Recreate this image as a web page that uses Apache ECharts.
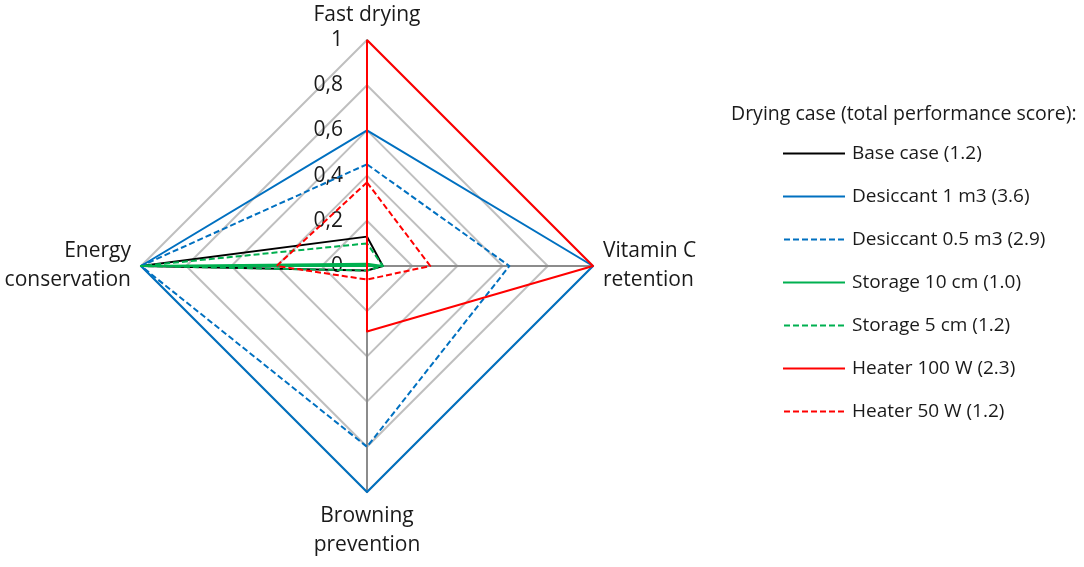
<!DOCTYPE html>
<html><head><meta charset="utf-8">
<script src="https://cdn.jsdelivr.net/npm/echarts@6/dist/echarts.min.js"></script>
<style>html,body{margin:0;padding:0;background:#fff}#c{width:1084px;height:567px}</style>
</head><body><div id="c"></div>
<script>
// indicator order as ECharts places them counter-clockwise from top
const indicators = ['Fast drying', 'Energy\nconservation', 'Browning\nprevention', 'Vitamin C\nretention'];
const seriesNames = ['Base case (1.2)', 'Desiccant 1 m3 (3.6)', 'Desiccant 0.5 m3 (2.9)', 'Storage 10 cm (1.0)', 'Storage 5 cm (1.2)', 'Heater 100 W (2.3)', 'Heater 50 W (1.2)'];
// values: [Fast drying, Energy conservation, Browning prevention, Vitamin C retention]
const baseCase      = [0.13, 1, 0.02, 0.07];
const desiccant1    = [0.6, 1, 1, 1];
const desiccant05   = [0.45, 1, 0.8, 0.63];
const storage10     = [0.01, 1, 0.0, 0.07];
const storage5      = [0.1, 1, 0.02, 0.07];
const heater100     = [1, 0, 0.29, 1];
const heater50      = [0.37, 0.4, 0.06, 0.28];
const tickLabels = ['0', '0,2', '0,4', '0,6', '0,8', '1'];

const values = [baseCase, desiccant1, desiccant05, storage10, storage5, heater100, heater50];
const colors = ['#000000', '#0070C0', '#0070C0', '#00B050', '#00B050', '#FF0000', '#FF0000'];
const dashed = [false, false, true, false, true, false, true];

const solidIcon = 'path://M0,0h62v2h-62z';
const dashIcon = 'path://M0,0h6v2h-6z M9,0h6v2h-6z M18,0h6v2h-6z M27,0h6v2h-6z M36,0h6v2h-6z M45,0h6v2h-6z M54,0h6v2h-6z';

const chart = echarts.init(document.getElementById('c'), null, {renderer: 'canvas'});
const option = {
  animation: false,
  backgroundColor: '#fff',
  textStyle: {fontFamily: 'Open Sans'},
  title: {
    text: 'Drying case (total performance score):',
    left: 726, top: 99,
    textStyle: {fontFamily: 'Open Sans', fontSize: 19.5, fontWeight: 'normal', color: '#1a1a1a'}
  },
  legend: {
    orient: 'vertical',
    left: 778, top: 139,
    itemWidth: 62, itemHeight: 2,
    itemGap: 24,
    textStyle: {fontFamily: 'Open Sans', fontSize: 19, color: '#1a1a1a', padding: [0, 0, 0, 2]},
    data: seriesNames.map((n, i) => ({name: n, icon: dashed[i] ? dashIcon : solidIcon}))
  },
  radar: {
    center: [367, 266],
    radius: 226,
    startAngle: 90,
    shape: 'polygon',
    splitNumber: 5,
    nameGap: 10,
    axisName: {color: '#1a1a1a', fontFamily: 'Open Sans', fontSize: 21, lineHeight: 29},
    splitLine: {lineStyle: {color: '#BFBFBF', width: 2}},
    splitArea: {show: false},
    axisLine: {lineStyle: {color: '#8C8C8C', width: 2}},
    axisLabel: {show: false},
    indicator: indicators.map((n, i) => {
      const o = {name: n, min: 0, max: 1};
      if (i === 0) {
        o.axisLabel = {
          show: true, color: '#1a1a1a', fontFamily: 'Open Sans', fontSize: 21, margin: 24,
          formatter: v => tickLabels[Math.round(v * 5)]
        };
      }
      return o;
    })
  },
  series: seriesNames.map((n, i) => ({
    type: 'radar',
    name: n,
    symbol: 'none',
    itemStyle: {color: colors[i]},
    lineStyle: {color: colors[i], width: 2, type: dashed[i] ? [6, 3] : 'solid'},
    data: [{value: values[i], name: n}]
  }))
};
chart.setOption(option);
</script></body></html>
